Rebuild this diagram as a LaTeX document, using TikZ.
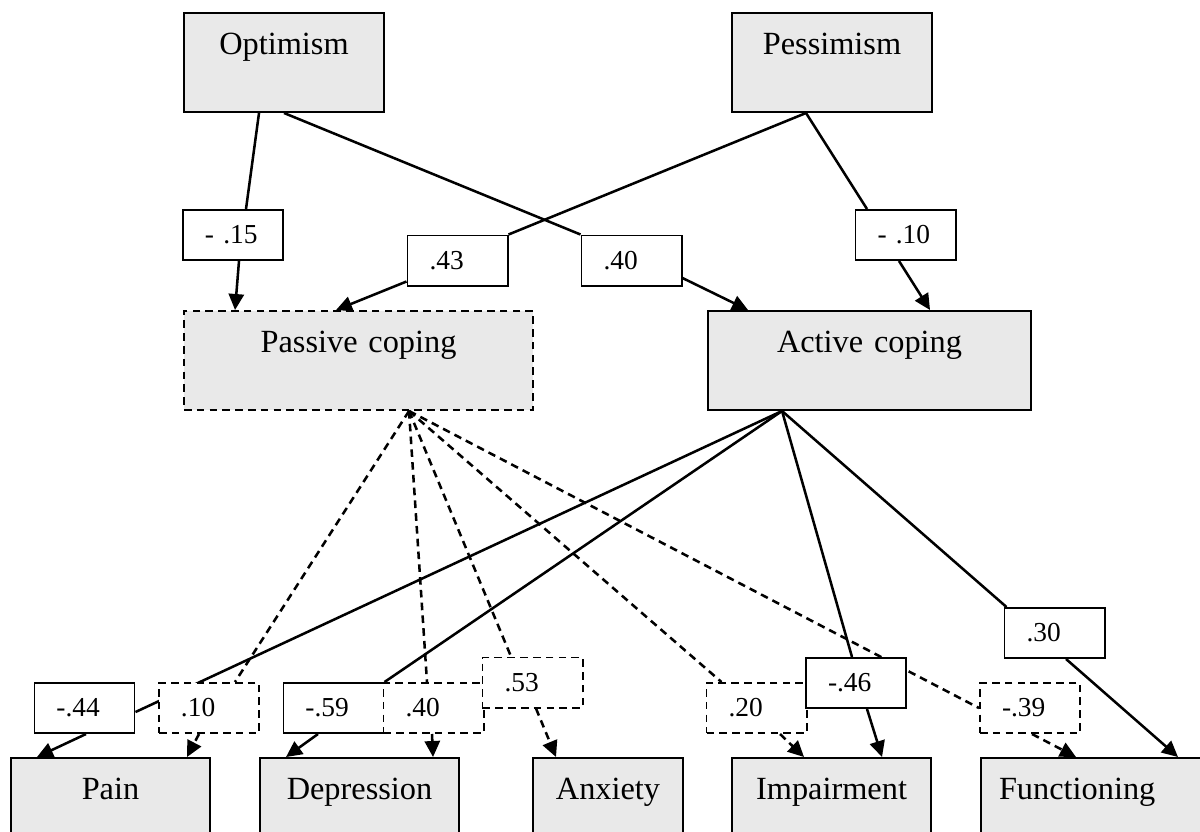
\documentclass[tikz,border=0pt]{standalone}
\usepackage{fontspec}
\setmainfont{Liberation Serif}
\usetikzlibrary{arrows.meta,calc,backgrounds}
\definecolor{boxgray}{RGB}{233,233,233}
\tikzset{
  mainbox/.style={draw, fill=boxgray, line width=1.4pt, anchor=north west,
    inner xsep=0pt, inner ysep=0pt, text width=#1, align=center,
    text height=1.025cm, text depth=1.45cm, font=\fontsize{23}{26}\selectfont},
  coef/.style={draw, fill=white, line width=1.4pt, minimum height=1.25cm,
    text width=1.4cm, inner xsep=0.55cm, inner ysep=0pt, align=left,
    font=\fontsize{19.5}{22}\selectfont},
  dsh/.style={dash pattern=on 0.19cm off 0.13cm},
  link/.style={line width=1.8pt},
  arr/.style={link, -{Triangle[length=0.4cm, width=0.38cm]}}
}
\begin{document}
\begin{tikzpicture}[x=0.025cm, y=-0.025cm]
\useasboundingbox (0,0) rectangle (1200,831);
\clip (0,0) rectangle (1200,831);

\node[mainbox=5cm] (opt) at (183,12) {Optimism};
\node[mainbox=5cm] (pes) at (731,12) {Pessimism};
\node[mainbox=8.725cm, dsh] (pas) at (183,310) {Passive coping};
\node[mainbox=8.075cm] (act) at (707,310) {Active coping};
\node[mainbox=4.975cm] (pain) at (10,757) {Pain};
\node[mainbox=4.975cm] (dep) at (259,757) {Depression};
\node[mainbox=3.75cm] (anx) at (532,757) {Anxiety};
\node[mainbox=4.975cm] (imp) at (731,757) {Impairment};
\node[mainbox=5.5cm, inner xsep=0.45cm, align=left] (fun) at (980,757) {Functioning};

\node[coef] (c15) at (233,235) {- .15};
\node[coef] (c43) at (457.5,260.5) {.43};
\node[coef] (c40) at (631.5,260.5) {.40};
\node[coef] (c10) at (905.5,235) {- .10};
\node[coef] (p44) at (84.5,708) {-.44};
\node[coef, dsh] (q10) at (209,708) {.10};
\node[coef] (p59) at (333.5,708) {-.59};
\node[coef, dsh] (q40) at (433.5,708) {.40};
\node[coef, dsh] (q53) at (532.5,682.5) {.53};
\node[coef, dsh] (q20) at (756.5,708) {.20};
\node[coef] (p46) at (856,683) {-.46};
\node[coef] (p30) at (1054.5,633) {.30};
\node[coef, dsh] (q39) at (1030,708) {-.39};

\coordinate (a) at ($(act.south)+(-87.5,0)$);
\coordinate (p) at ($(pas.south)+(50.5,0)$);

\begin{pgfonlayer}{background}
\draw[link] ($(opt.south)+(-25,0)$) -- ($(c15.north)+(13,0)$);
\draw[arr] ($(c15.south)+(6,0)$) -- ($(pas.north)+(-123.5,0)$);
\draw[link] (opt.south) -- (c40.north west);
\draw[arr] ($(c40.east)+(0,17.5)$) -- ($(act.north)+(-121.5,0)$);
\draw[link] ($(pes.south)+(-26,0)$) -- (c43.north east);
\draw[arr] ($(c43.south west)+(0,-5)$) -- ($(pas.north)+(-22.5,0)$);
\draw[link] ($(pes.south)+(-26,0)$) -- ($(c10.north)+(-38.5,0)$);
\draw[arr] ($(c10.south)+(-6.5,0)$) -- ($(act.north)+(60.5,0)$);

\draw[link] (a) -- ($(p44.east)+(0,4)$);
\draw[arr] ($(p44.south)+(1.5,0)$) -- ($(pain.north)+(-73.5,0)$);
\draw[link, dsh] (p) -- ($(q10.north)+(26,0)$);
\draw[arr, dsh] ($(q10.south)+(-10,0)$) -- ($(pain.north)+(76.5,0)$);
\draw[link] (a) -- (p59.north east);
\draw[arr] ($(p59.south)+(-15.5,0)$) -- ($(dep.north)+(-73.5,0)$);
\draw[link, dsh] (p) -- ($(q40.north)+(-6.5,0)$);
\draw[arr, dsh] ($(q40.south)+(-1.5,0)$) -- ($(dep.north)+(73.5,0)$);
\draw[link, dsh] (p) -- ($(q53.north)+(-21.5,0)$);
\draw[arr, dsh] ($(q53.south)+(3.5,0)$) -- ($(anx.north)+(-52,0)$);
\draw[link, dsh] (p) -- ($(q20.north west)+(16,0)$);
\draw[arr, dsh] ($(q20.south)+(23.5,0)$) -- ($(imp.north)+(-27.5,0)$);
\draw[link] (a) -- ($(p46.north)+(-4,0)$);
\draw[arr] ($(p46.south)+(11,0)$) -- ($(imp.north)+(50.5,0)$);
\draw[link, dsh] (p) -- (q39.west);
\draw[arr, dsh] ($(q39.south)+(2,0)$) -- ($(fun.north west)+(96,0)$);
\draw[link] (a) -- ($(p30.north west)+(3,0)$);
\draw[arr] ($(p30.south)+(11.5,0)$) -- ($(fun.north west)+(198,0)$);
\end{pgfonlayer}
\end{tikzpicture}
\end{document}
